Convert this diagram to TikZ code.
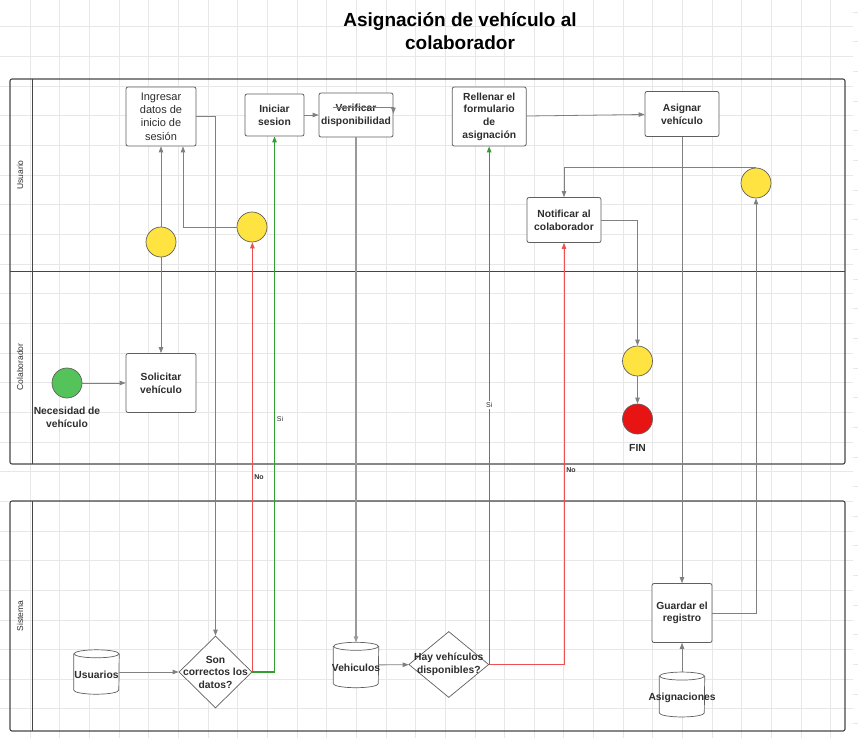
\documentclass[tikz,border=0pt]{standalone}
\usepackage{fontspec}
\setmainfont{Liberation Sans}
\usetikzlibrary{arrows.meta,positioning,calc,shapes.geometric}

\definecolor{gridgray}{RGB}{231,231,231}
\definecolor{linegray}{RGB}{128,128,128}
\definecolor{boxgray}{RGB}{95,95,95}
\definecolor{lanegray}{RGB}{70,70,70}
\definecolor{textgray}{RGB}{45,45,45}
\definecolor{gateyellow}{RGB}{255,227,64}
\definecolor{startgreen}{RGB}{84,196,90}
\definecolor{endred}{RGB}{232,20,20}
\definecolor{yesgreen}{RGB}{50,158,50}
\definecolor{nored}{RGB}{236,80,80}

\tikzset{
  flow/.style={draw=linegray, line width=0.8pt, -{Triangle[length=6pt,width=4.5pt]}},
  yesflow/.style={flow, draw=yesgreen, line width=1.1pt},
  noflow/.style={flow, draw=nored, line width=1pt},
  task/.style={draw=boxgray, fill=white, rounded corners=2pt, line width=0.8pt,
    inner sep=0pt, align=center, text=textgray,
    font=\bfseries\fontsize{10.3}{12.7}\selectfont},
  gate/.style={circle, draw=boxgray, fill=gateyellow, minimum size=30pt,
    inner sep=0pt, line width=0.7pt},
  decision/.style={diamond, draw=boxgray, fill=white, inner sep=0pt, line width=0.7pt},
  dbbox/.style={inner sep=0pt, minimum width=45pt},
  boldtxt/.style={align=center, text=textgray, inner sep=0pt,
    font=\bfseries\fontsize{10.3}{12.5}\selectfont},
  lanelbl/.style={rotate=90, text=textgray, font=\fontsize{8.5}{10}\selectfont},
  cond/.style={text=textgray, inner sep=1pt, font=\fontsize{7}{8}\selectfont}
}

% cylinder outline round a named box
\newcommand{\dbdraw}[1]{%
  \draw[boxgray, line width=0.7pt, fill=white]
    ($(#1.north west)+(0,4)$) -- ($(#1.south west)+(0,-4)$)
    arc[start angle=180, end angle=360, x radius=22.5pt, y radius=4pt]
    -- ($(#1.north east)+(0,4)$);
  \draw[boxgray, line width=0.7pt, fill=white]
    ($(#1.north)+(0,4)$) ellipse [x radius=22.5pt, y radius=4pt];
}

\begin{document}
\begin{tikzpicture}[x=1pt, y=-1pt]
    \useasboundingbox (0,0) rectangle (858,738);

    % Grid
    \foreach \gx in {1,...,28} {
        \draw[gridgray, line width=0.8pt] ({0.34+29.66*\gx},0) -- ++(0,738);
    }
    \foreach \gy in {0,...,23} {
        \draw[gridgray, line width=0.8pt] (0,{26.7+29.66*\gy}) -- ++(853,0);
    }
    \foreach \gy in {0,...,24} {
        \draw[gridgray, line width=0.8pt] (853,{12+29.66*\gy}) -- ++(5,0);
    }

    % Title
    \node[align=center, font=\bfseries\fontsize{19}{23}\selectfont] (titulo) at (460,31.5)
        {Asignación de vehículo al\\colaborador};

    % Lanes
    \draw[lanegray, line width=1.1pt, rounded corners=2pt] (10,79) rectangle (845,464);
    \draw[lanegray, line width=1pt] (10,271) -- (845,271);
    \draw[lanegray, line width=1pt] (32,79) -- (32,464);
    \draw[lanegray, line width=1.1pt, rounded corners=2pt] (10,501) rectangle (845,731);
    \draw[lanegray, line width=1pt] (32,501) -- (32,731);
    \node[lanelbl] (lane-usuario) at (20,175) {Usuario};
    \node[lanelbl] (lane-colab) at (20,367) {Colaborador};
    \node[lanelbl] (lane-sistema) at (20,616) {Sistema};

    % Usuario
    \node[task, minimum width=70pt, minimum height=59pt,
          font=\fontsize{11}{13.4}\selectfont] (ingresar) at (161,116.5)
        {Ingresar\\datos de\\inicio de\\sesión};
    \node[task, minimum width=59pt, minimum height=42pt] (iniciar) at (274.5,115)
        {Iniciar\\sesion};
    \node[task, minimum width=74pt, minimum height=44pt] (verificar) at (356,115)
        {Verificar\\disponibilidad};
    \node[task, minimum width=74pt, minimum height=59pt] (rellenar) at (489.2,116.5)
        {Rellenar el\\formulario\\de\\asignación};
    \node[task, minimum width=74pt, minimum height=45pt] (asignar) at (682,114)
        {Asignar\\vehículo};
    \node[task, minimum width=74pt, minimum height=45pt] (notificar) at (564,220)
        {Notificar al\\colaborador};
    \node[gate] (gate1) at (161,242) {};
    \node[gate] (gate2) at (252,227) {};
    \node[gate] (gate3) at (756,183) {};

    % Colaborador
    \node[circle, draw=boxgray, fill=startgreen, minimum size=30pt, inner sep=0pt,
          line width=0.7pt] (inicio) at (67,383) {};
    \node[boldtxt] (inicio-lbl) at (67,417.5) {Necesidad de\\vehículo};
    \node[task, minimum width=70pt, minimum height=59pt] (solicitar) at (161,383)
        {Solicitar\\vehículo};
    \node[gate] (gate4) at (637.5,361) {};
    \node[circle, draw=boxgray, fill=endred, minimum size=30pt, inner sep=0pt,
          line width=0.7pt] (fin) at (637.5,419) {};
    \node[boldtxt] (fin-lbl) at (637.5,448) {FIN};

    % Sistema
    \node[dbbox, minimum height=44pt] (usuarios) at (96.5,672) {};
    \dbdraw{usuarios}
    \node[boldtxt] (usuarios-lbl) at ($(usuarios.center)+(0,3)$) {Usuarios};
    \node[decision, minimum width=73pt, minimum height=72pt] (son) at (215.5,672) {};
    \node[boldtxt] (son-lbl) at (son.center) {Son\\correctos los\\datos?};
    \node[dbbox, minimum height=45pt] (vehiculos) at (356,665) {};
    \dbdraw{vehiculos}
    \node[boldtxt] (vehiculos-lbl) at ($(vehiculos.center)+(0,3)$) {Vehiculos};
    \node[decision, minimum width=80pt, minimum height=66pt] (hay) at (448.8,664.5) {};
    \node[boldtxt] (hay-lbl) at (hay.center) {Hay vehículos\\disponibles?};
    \node[task, minimum width=60pt, minimum height=59pt] (guardar) at (682,613)
        {Guardar el\\registro};
    \node[dbbox, minimum height=44.5pt] (asignaciones) at (682,694.5) {};
    \dbdraw{asignaciones}
    \node[boldtxt] (asignaciones-lbl) at ($(asignaciones.center)+(0,3.5)$) {Asignaciones};

    % Connectors
    \draw[flow] (inicio) -- (solicitar);
    \draw[flow] (gate1) -- (solicitar);
    \draw[flow] (gate1) -- (ingresar);
    \draw[flow] (gate2.west) -| ([xshift=22pt]ingresar.south);
    \draw[flow] (ingresar.east) -| (son.north);
    \draw[flow] (usuarios.east) -- (son.west);
    \draw[noflow] (son.east) -- (son.east |- gate2.south);
    \draw[yesflow] (son.east) -| (iniciar.south);
    \draw[flow] (iniciar) -- (verificar);
    \draw[flow] ($(verificar.north west)+(14,15)$) -| ($(verificar.north east)+(0,21)$);
    \draw[flow, draw=linegray!80, line width=1.1pt] (verificar) -- (vehiculos);
    \draw[flow] (vehiculos) -- (hay);
    \draw[yesflow] (hay.east) -- (hay.east |- rellenar.south);
    \draw[noflow] (hay.east) -| (notificar.south);
    \draw[flow] (rellenar) -- (asignar);
    \draw[flow] (asignar) -- (guardar);
    \draw[flow] (asignaciones) -- (guardar);
    \draw[flow] (guardar.east) -| (gate3.south);
    \draw[flow] (gate3.north) -| (notificar.north);
    \draw[flow] (notificar.east) -| (gate4.north);
    \draw[flow] (gate4) -- (fin);

    % Condition labels
    \node[cond, font=\bfseries\fontsize{7}{8}\selectfont] (no1) at (259,477) {No};
    \node[cond] (si1) at (280,419) {Si};
    \node[cond, fill=white] (si2) at (489.2,405) {Si};
    \node[cond, font=\bfseries\fontsize{7}{8}\selectfont] (no2) at (571,470) {No};
\end{tikzpicture}
\end{document}
